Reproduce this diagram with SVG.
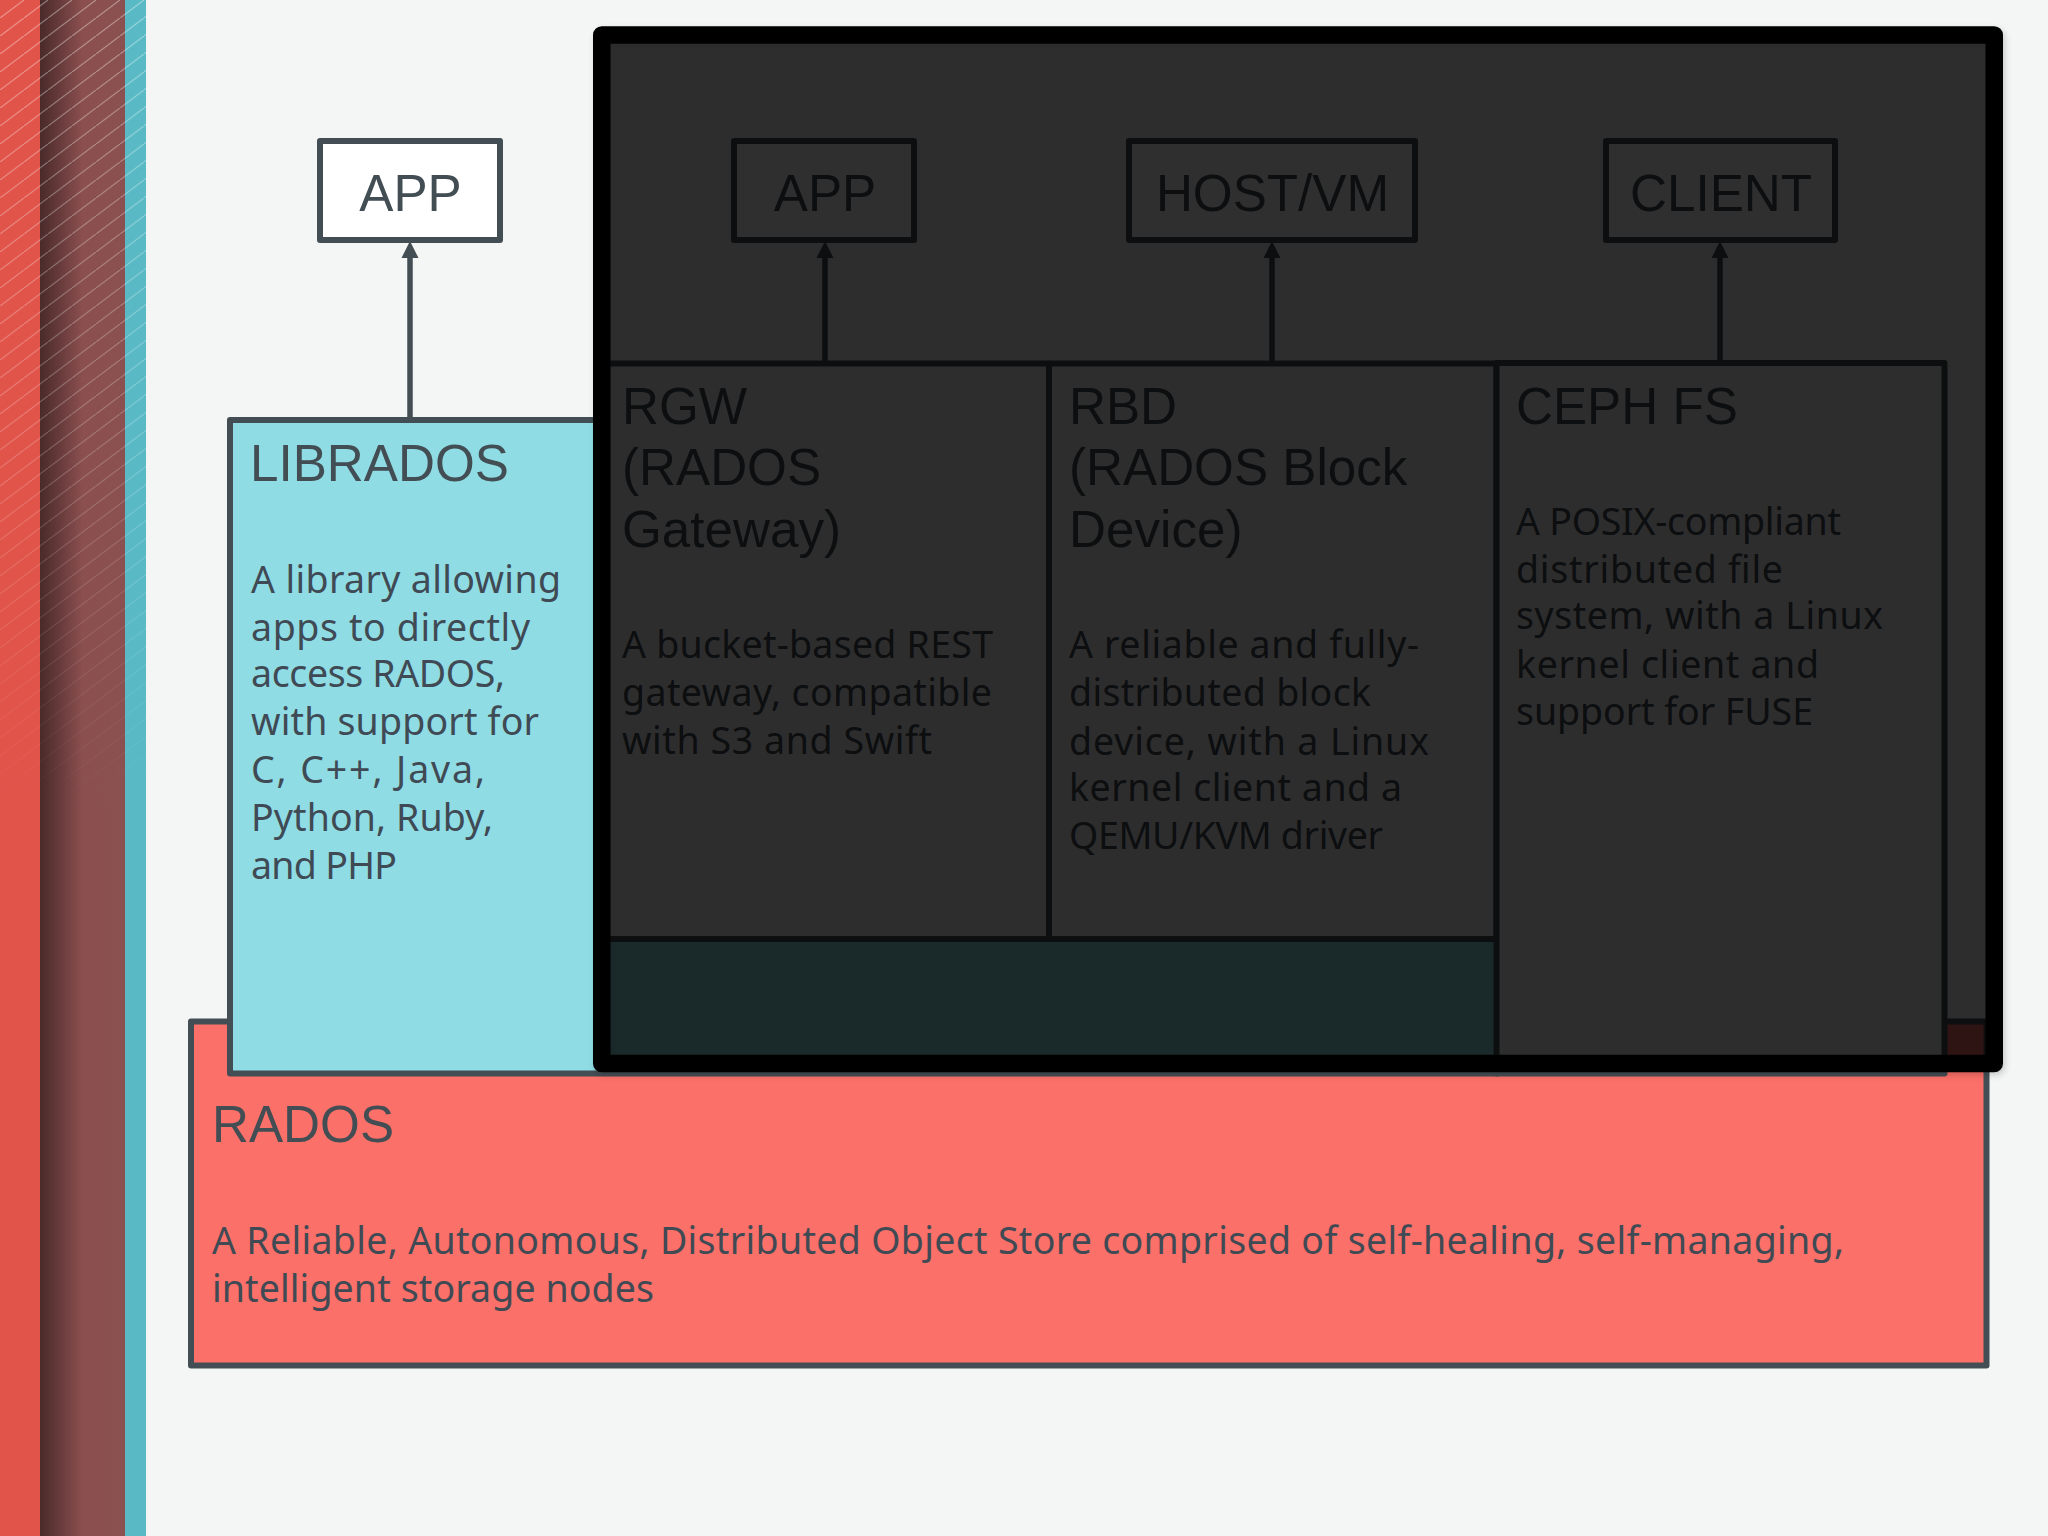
<svg xmlns="http://www.w3.org/2000/svg" width="2048" height="1536" viewBox="0 0 2048 1536">
<style>
.box{stroke:#434e54;stroke-width:6;stroke-linejoin:round}
.h{font-family:"Liberation Sans",Arial,sans-serif;font-size:51.2px;fill:#424d54}
.c{text-anchor:middle}
.b{font-family:"Noto Sans","Open Sans",sans-serif;font-size:37.5px;fill:#3f4a54}
.con{stroke:#434e54;stroke-width:5.5;fill:none}
.tip{fill:#434e54}
</style>
<defs>
<linearGradient id="maroon" x1="40" x2="125" y1="0" y2="0" gradientUnits="userSpaceOnUse">
<stop offset="0" stop-color="#4a2a2a"/><stop offset=".25" stop-color="#6a3c3c"/><stop offset=".5" stop-color="#8b4f4f"/><stop offset="1" stop-color="#8b5050"/>
</linearGradient>
<pattern id="hatch" patternUnits="userSpaceOnUse" width="24" height="18">
<path d="M-8 24L32 -6" stroke="#fff" stroke-width="1.3" fill="none"/>
</pattern>
<linearGradient id="fade" x1="0" x2="0" y1="0" y2="820" gradientUnits="userSpaceOnUse">
<stop offset="0" stop-color="#fff" stop-opacity=".36"/><stop offset=".5" stop-color="#fff" stop-opacity=".22"/><stop offset="1" stop-color="#fff" stop-opacity="0"/>
</linearGradient>
<mask id="fadeMask" maskUnits="userSpaceOnUse" x="0" y="0" width="146" height="820"><rect width="146" height="820" fill="url(#fade)"/></mask>
<filter id="sh" x="-2%" y="-2%" width="104%" height="104%"><feDropShadow dx="2" dy="3" stdDeviation="3" flood-color="#000" flood-opacity=".18"/></filter>
</defs>
<rect id="background" width="2048" height="1536" fill="#f4f6f5"/>
<g id="stripes">
<rect width="40" height="1536" fill="#e1544a"/>
<rect x="40" width="85" height="1536" fill="url(#maroon)"/>
<rect x="125" width="21" height="1536" fill="#59bac6"/>
<rect width="146" height="820" fill="url(#hatch)" mask="url(#fadeMask)"/>
</g>
<g id="rados">
<rect class="box" x="191" y="1021.5" width="1795.5" height="344" fill="#fb7068"/>
<text class="h" x="212" y="1142">RADOS</text>
<text class="b" x="212" y="1254" textLength="1632">A Reliable, Autonomous, Distributed Object Store comprised of self-healing, self-managing,</text>
<text class="b" x="212" y="1302" textLength="442">intelligent storage nodes</text>
</g>
<g id="librados">
<rect class="box" x="230" y="420" width="1267" height="653.5" fill="#8fdce4"/>
<text class="h" x="250" y="481">LIBRADOS</text>
<text class="b" x="251" y="592.5" textLength="310">A library allowing</text>
<text class="b" x="251" y="641" textLength="279">apps to directly</text>
<text class="b" x="251" y="687" textLength="254">access RADOS,</text>
<text class="b" x="251" y="735" textLength="288">with support for</text>
<text class="b" x="251" y="783" textLength="234">C, C++, Java,</text>
<text class="b" x="251" y="831" textLength="242">Python, Ruby,</text>
<text class="b" x="251" y="879" textLength="146">and PHP</text>
</g>
<g id="app-left">
<rect class="box" x="320" y="141" width="180" height="99" fill="#fff"/>
<text class="h c" x="410.5" y="211">APP</text>
</g>
<g id="rgw">
<rect class="box" x="607" y="363.5" width="442" height="575.5" fill="#f5f5f7"/>
<text class="h" x="622" y="424">RGW</text>
<text class="h" x="622" y="485">(RADOS</text>
<text class="h" x="622" y="547">Gateway)</text>
<text class="b" x="622" y="658" textLength="371">A bucket-based REST</text>
<text class="b" x="622" y="706" textLength="370">gateway, compatible</text>
<text class="b" x="622" y="754" textLength="310">with S3 and Swift</text>
</g>
<g id="rbd">
<rect class="box" x="1049" y="363.5" width="447.5" height="575.5" fill="#f5f5f7"/>
<text class="h" x="1069" y="424">RBD</text>
<text class="h" x="1069" y="485">(RADOS Block</text>
<text class="h" x="1069" y="547">Device)</text>
<text class="b" x="1069" y="658" textLength="350">A reliable and fully-</text>
<text class="b" x="1069" y="706" textLength="302">distributed block</text>
<text class="b" x="1069" y="755" textLength="360">device, with a Linux</text>
<text class="b" x="1069" y="801" textLength="333">kernel client and a</text>
<text class="b" x="1069" y="849" textLength="314">QEMU/KVM driver</text>
</g>
<g id="cephfs">
<rect class="box" x="1496.5" y="363" width="448" height="710.5" fill="#f5f5f7"/>
<text class="h" x="1516" y="424">CEPH FS</text>
<text class="b" x="1516" y="535" textLength="325">A POSIX-compliant</text>
<text class="b" x="1516" y="583" textLength="267">distributed file</text>
<text class="b" x="1516" y="629" textLength="367">system, with a Linux</text>
<text class="b" x="1516" y="677.5" textLength="303">kernel client and</text>
<text class="b" x="1516" y="725" textLength="297">support for FUSE</text>
</g>
<g id="app-rgw">
<rect class="box" x="734" y="141" width="180" height="99" fill="#fff"/>
<text class="h c" x="825" y="211">APP</text>
</g>
<g id="host-vm">
<rect class="box" x="1129" y="141" width="286" height="99" fill="#fff"/>
<text class="h c" x="1272.5" y="211">HOST/VM</text>
</g>
<g id="client">
<rect class="box" x="1606" y="141" width="229" height="99" fill="#fff"/>
<text class="h c" x="1721" y="211">CLIENT</text>
</g>
<g id="connectors">
<path class="con" d="M410 420V255M825 363V255M1272 363V255M1720 363V255"/>
<path class="tip" d="M410 241l-8.5 17h17zM825 241l-8.5 17h17zM1272 241l-8.5 17h17zM1720 241l-8.5 17h17z"/>
</g>
<rect id="dim-overlay" x="601.75" y="35" width="1392.5" height="1028.5" fill="#000" fill-opacity=".785" stroke="#000" stroke-width="17.5" stroke-linejoin="round" filter="url(#sh)"/>
</svg>
